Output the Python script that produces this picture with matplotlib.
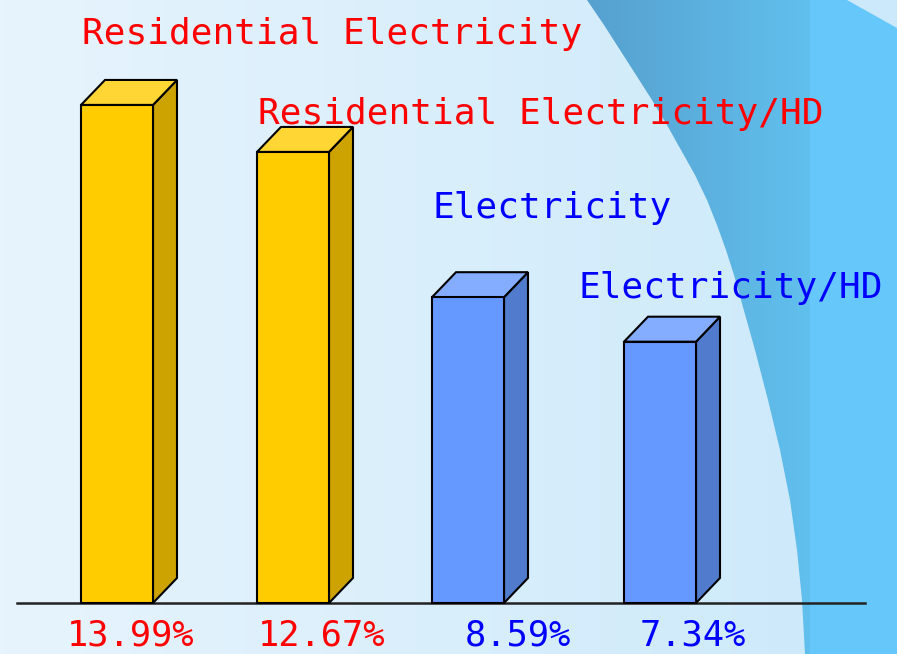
import matplotlib
matplotlib.use("Agg")
import matplotlib.pyplot as plt
import numpy as np
from matplotlib.patches import Polygon, Rectangle

# ---------------- data
labels = ["Residential Electricity", "Residential Electricity/HD",
          "Electricity", "Electricity/HD"]
values = [13.99, 12.67, 8.59, 7.34]
value_text = ["13.99%", "12.67%", "8.59%", "7.34%"]

# ---------------- styling / layout
W, H = 897, 654
BAR_LEFT = [81, 257, 432, 624]          # pixel x of the front face
BAR_W = 72
PX_PER_UNIT = 35.6
BASE_PX = 603                            # baseline, pixels from top
DX, DY = 24, 25                          # 3d depth offset in pixels
RED, BLUE = "#ff0000", "#0000ff"
face = ["#ffcc00", "#ffcc00", "#6699ff", "#6699ff"]
side = ["#cca300", "#cca300", "#517bcc", "#517bcc"]
top = ["#ffd633", "#ffd633", "#85adff", "#85adff"]
txt_col = [RED, RED, BLUE, BLUE]
label_pos = [(82, 44), (258, 124), (433, 218), (578, 298)]
pct_x = [67, 258, 465, 640]
FONT = "DejaVu Sans Mono"

fig = plt.figure(figsize=(W / 100, H / 100), dpi=100)

# ---------------- background (pixel coordinates)
bg = fig.add_axes([0, 0, 1, 1])
bg.set_xlim(0, W)
bg.set_ylim(H, 0)
bg.axis("off")

xs = np.linspace(0, 1, 256)
c0 = np.array([231, 244, 253]) / 255
c1 = np.array([203, 233, 250]) / 255
grad = (c0[None, :] * (1 - xs[:, None]) + c1[None, :] * xs[:, None])[None, :, :]
bg.imshow(grad, extent=(0, W, H, 0), aspect="auto", zorder=0)

# swoosh on the right
curve = [(587, 0), (604, 25), (620, 50), (636, 75), (652, 100), (667, 125),
         (681, 150), (695, 175), (707, 200), (717, 225), (726, 250),
         (734, 275), (741, 300), (755, 350), (768, 400), (780, 450),
         (790, 500), (797, 550), (802, 600), (805, H)]
sw_poly = Polygon(curve + [(W, H), (W, 28), (847, 0)], closed=True,
                  transform=bg.transData, facecolor="none", edgecolor="none")
bg.add_patch(sw_poly)
sw = np.zeros((1, W, 3))
d0 = np.array([86, 160, 206]) / 255
d1 = np.array([97, 192, 238]) / 255
light = np.array([102, 200, 250]) / 255
for i in range(W):
    if i < 810:
        t = np.clip((i - 587) / (810 - 587), 0, 1)
        sw[0, i] = d0 * (1 - t) + d1 * t
    else:
        sw[0, i] = light
im = bg.imshow(sw, extent=(0, W, H, 0), aspect="auto", zorder=1)
im.set_clip_path(sw_poly)

# ---------------- bars (x in pixels, y in value units)
ax = fig.add_axes([0, 0, 1, 1])
ax.patch.set_alpha(0)
ax.axis("off")
ax.set_xlim(0, W)
ax.set_ylim(-(H - BASE_PX) / PX_PER_UNIT, BASE_PX / PX_PER_UNIT)
dy = DY / PX_PER_UNIT

ax.plot([17, 865], [0, 0], color="#222222", lw=1.8, zorder=2)

for i, v in enumerate(values):
    x0 = BAR_LEFT[i]
    x1 = x0 + BAR_W
    ax.add_patch(Polygon([(x1, 0), (x1 + DX, dy), (x1 + DX, v + dy), (x1, v)],
                         closed=True, facecolor=side[i], edgecolor="black",
                         lw=1.5, joinstyle="miter", zorder=3))
    ax.add_patch(Polygon([(x0, v), (x0 + DX, v + dy), (x1 + DX, v + dy), (x1, v)],
                         closed=True, facecolor=top[i], edgecolor="black",
                         lw=1.5, joinstyle="miter", zorder=3))
    ax.add_patch(Rectangle((x0, 0), BAR_W, v, facecolor=face[i],
                           edgecolor="black", lw=1.5, joinstyle="miter",
                           zorder=4))

# ---------------- text (pixel coordinates)
for i, lab in enumerate(labels):
    x, y = label_pos[i]
    bg.text(x, y, lab, color=txt_col[i], family=FONT, fontsize=26,
            ha="left", va="baseline", zorder=5)
    bg.text(pct_x[i], 653, value_text[i], color=txt_col[i], family=FONT,
            fontsize=25.5, ha="left", va="bottom", zorder=5)

fig.savefig("out.png", dpi=100)
